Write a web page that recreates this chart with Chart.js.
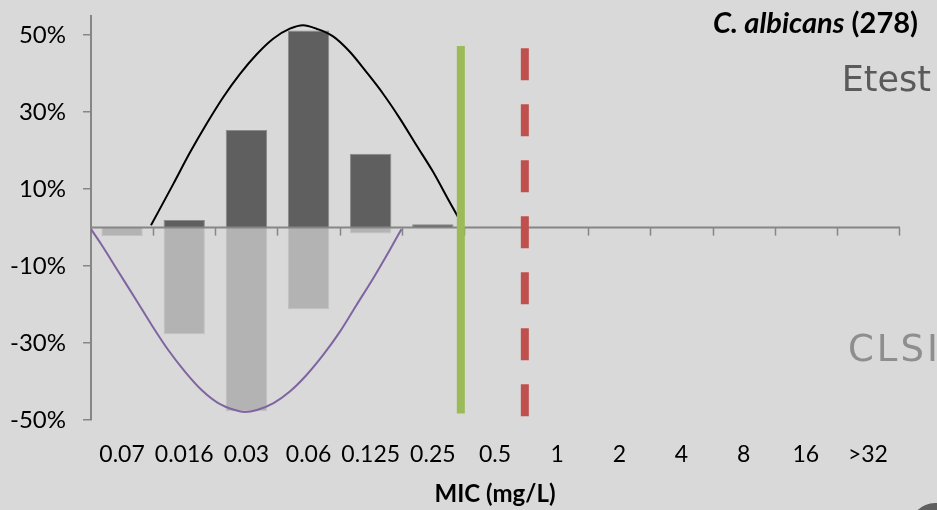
<!DOCTYPE html>
<html>
<head>
<meta charset="utf-8">
<script src="https://cdn.jsdelivr.net/npm/chart.js@4.4.1/dist/chart.umd.min.js"></script>
<style>
  html, body { margin: 0; padding: 0; background: #d9d9d9; }
  #wrap { position: relative; width: 937px; height: 510px; overflow: hidden; }
</style>
</head>
<body>
<div id="wrap"><canvas id="chart"></canvas></div>
<script>
// MIC classes (mg/L)
const categories = ['0.07', '0.016', '0.03', '0.06', '0.125', '0.25', '0.5', '1', '2', '4', '8', '16', '>32'];

// Percentage of isolates per MIC class: Etest above the axis, CLSI mirrored below
const etestPct = [0, 2.0, 25.4, 51.2, 19.2, 0.9, null, null, null, null, null, null, null];
const clsiPct  = [-2.2, -27.7, -47.7, -21.2, -1.5, null, 0.3, null, null, null, null, null, null];

// Value-axis ticks and range
const yTickValues = [-50, -30, -10, 10, 30, 50];
const yMin = -50;
const yMax = 55;

// Distribution envelopes (x in category-slot units from the left edge)
const etestCurveX = [0.965, 1.323, 1.592, 1.860, 2.127, 2.395, 2.663, 2.931, 3.199, 3.413, 3.627, 3.895, 4.164, 4.432, 4.699, 4.968, 5.236, 5.503, 5.772, 5.986];
const etestCurveY = [0.6, 11.3, 19.5, 27.0, 33.9, 39.9, 45.0, 49.1, 51.7, 52.6, 51.7, 49.7, 45.7, 40.4, 34.8, 28.4, 21.4, 14.5, 6.6, 0.5];
const clsiCurveX  = [0, 0.172, 0.439, 0.707, 0.976, 1.243, 1.511, 1.780, 2.047, 2.315, 2.476, 2.669, 2.937, 3.199, 3.468, 3.735, 4.003, 4.272, 4.539, 4.807, 4.995];
const clsiCurveY  = [-0.4, -4.5, -11.4, -18.3, -25.3, -31.8, -37.4, -42.2, -45.6, -47.4, -47.9, -47.4, -45.6, -42.6, -38.3, -33.1, -27.1, -20.1, -13.2, -5.8, -0.4];

// Breakpoint markers: slot position and vertical extent (%)
const etestBreakpointX = 5.95;
const etestBreakpointY = [47.2, -48.3];
const clsiBreakpointX = 6.98;
const clsiBreakpointY = [46.6, -49.0];

const toPoints = (xs, ys) => xs.map((x, i) => ({ x: x, y: ys[i] }));
const vertical = (x, ys) => ys.map(y => ({ x: x, y: y }));

const FONT = 'Lato, "Open Sans", sans-serif';
Chart.defaults.font.family = FONT;
Chart.defaults.color = '#000000';

// Zero axis with tick marks between categories, drawn above the bars and below the lines
const zeroAxisPlugin = {
  id: 'zeroAxis',
  beforeDatasetsDraw(chart) { chart.$zeroAxisDone = false; },
  beforeDatasetDraw(chart, args) {
    if (chart.$zeroAxisDone || args.meta.type !== 'line') return;
    chart.$zeroAxisDone = true;
    const ctx = chart.ctx;
    const xs = chart.scales.x2;
    const y0 = chart.scales.y.getPixelForValue(0);
    ctx.save();
    ctx.strokeStyle = '#868686';
    ctx.lineWidth = 2;
    ctx.beginPath();
    ctx.moveTo(xs.getPixelForValue(0), y0);
    ctx.lineTo(xs.getPixelForValue(categories.length) + 1, y0);
    ctx.stroke();
    ctx.lineWidth = 1.5;
    for (let i = 1; i <= categories.length; i++) {
      const px = Math.round(xs.getPixelForValue(i)) + 0.5;
      ctx.beginPath();
      ctx.moveTo(px, y0);
      ctx.lineTo(px, y0 + 8);
      ctx.stroke();
    }
    ctx.restore();
  }
};

// Heading and method labels
const labelsPlugin = {
  id: 'labels',
  afterDraw(chart) {
    const ctx = chart.ctx;
    ctx.save();
    ctx.textBaseline = 'alphabetic';
    ctx.textAlign = 'left';
    const italicFont = 'italic bold 29px ' + FONT;
    const boldFont = 'bold 29px ' + FONT;
    const part1 = 'C. albicans';
    const part2 = ' (278)';
    ctx.font = italicFont;
    const w1 = ctx.measureText(part1).width;
    ctx.font = boldFont;
    const w2 = ctx.measureText(part2).width;
    const right = 918;
    ctx.fillStyle = '#000000';
    ctx.font = italicFont;
    ctx.fillText(part1, right - w1 - w2, 33);
    ctx.font = boldFont;
    ctx.fillText(part2, right - w2, 33);

    ctx.font = '35px "DejaVu Sans", sans-serif';
    ctx.fillStyle = '#5a5a5a';
    ctx.textAlign = 'right';
    ctx.fillText('Etest', 931, 91);
    ctx.font = '37px "DejaVu Sans", sans-serif';
    ctx.fillStyle = '#8e8e8e';
    ctx.textAlign = 'left';
    ctx.letterSpacing = '3px';
    ctx.fillText('CLSI', 848, 361);
    ctx.letterSpacing = '0px';

    ctx.fillStyle = '#5f5f5f';
    ctx.beginPath();
    ctx.arc(935, 528, 25, 0, Math.PI * 2);
    ctx.fill();
    ctx.restore();
  }
};

new Chart(document.getElementById('chart'), {
  type: 'bar',
  data: {
    labels: categories,
    datasets: [
      {
        type: 'line', label: 'Etest breakpoint', xAxisID: 'x2', order: 1,
        data: vertical(etestBreakpointX, etestBreakpointY),
        borderColor: '#9bbb59', borderWidth: 8, borderCapStyle: 'butt',
        pointRadius: 0, fill: false
      },
      {
        type: 'line', label: 'CLSI breakpoint', xAxisID: 'x2', order: 1,
        data: vertical(clsiBreakpointX, clsiBreakpointY),
        borderColor: '#c0504d', borderWidth: 8, borderCapStyle: 'butt', borderDash: [32, 24],
        pointRadius: 0, fill: false
      },
      {
        type: 'line', label: 'Etest distribution', xAxisID: 'x2', order: 1,
        data: toPoints(etestCurveX, etestCurveY),
        borderColor: '#000000', borderWidth: 2, cubicInterpolationMode: 'monotone',
        pointRadius: 0, fill: false
      },
      {
        type: 'line', label: 'CLSI distribution', xAxisID: 'x2', order: 1,
        data: toPoints(clsiCurveX, clsiCurveY),
        borderColor: '#8064a2', borderWidth: 2, cubicInterpolationMode: 'monotone',
        pointRadius: 0, fill: false
      },
      {
        label: 'Etest', data: etestPct, order: 2, grouped: false,
        backgroundColor: '#5f5f5f', borderColor: '#8a8a8a', borderWidth: 1,
        barPercentage: 0.665, categoryPercentage: 1
      },
      {
        label: 'CLSI', data: clsiPct, order: 2, grouped: false,
        backgroundColor: '#b3b3b3', borderColor: '#c2c2c2', borderWidth: 1,
        barPercentage: 0.665, categoryPercentage: 1
      }
    ]
  },
  options: {
    responsive: true,
    maintainAspectRatio: false,
    animation: false,
    events: [],
    layout: { padding: { top: 16, right: 38, bottom: 0, left: 0 } },
    plugins: {
      legend: { display: false },
      tooltip: { enabled: false },
      title: { display: false }
    },
    scales: {
      x: {
        type: 'category',
        offset: true,
        grid: { display: false, drawTicks: false },
        border: { display: false },
        ticks: { font: { size: 23 }, color: '#000000', padding: 21, maxRotation: 0, autoSkip: false },
        title: {
          display: true, text: 'MIC (mg/L)',
          font: { size: 24, weight: 'bold' }, color: '#000000',
          padding: { top: 0, bottom: 1 }
        },
        afterFit(scale) { scale.height = 90; }
      },
      x2: {
        type: 'linear',
        display: false,
        min: 0,
        max: categories.length,
        offset: false
      },
      y: {
        min: yMin,
        max: yMax,
        afterBuildTicks(scale) { scale.ticks = yTickValues.map(v => ({ value: v })); },
        ticks: {
          font: { size: 24 }, color: '#000000', padding: 17,
          callback: v => v + '%'
        },
        grid: { drawOnChartArea: false, drawTicks: true, tickLength: 8, color: '#868686', lineWidth: 1.5 },
        border: { display: true, color: '#868686', width: 2 },
        afterFit(scale) {
          scale.width = 91;
          scale.paddingTop = 0;
          scale.paddingBottom = 0;
        }
      }
    }
  },
  plugins: [zeroAxisPlugin, labelsPlugin]
});
</script>
</body>
</html>
